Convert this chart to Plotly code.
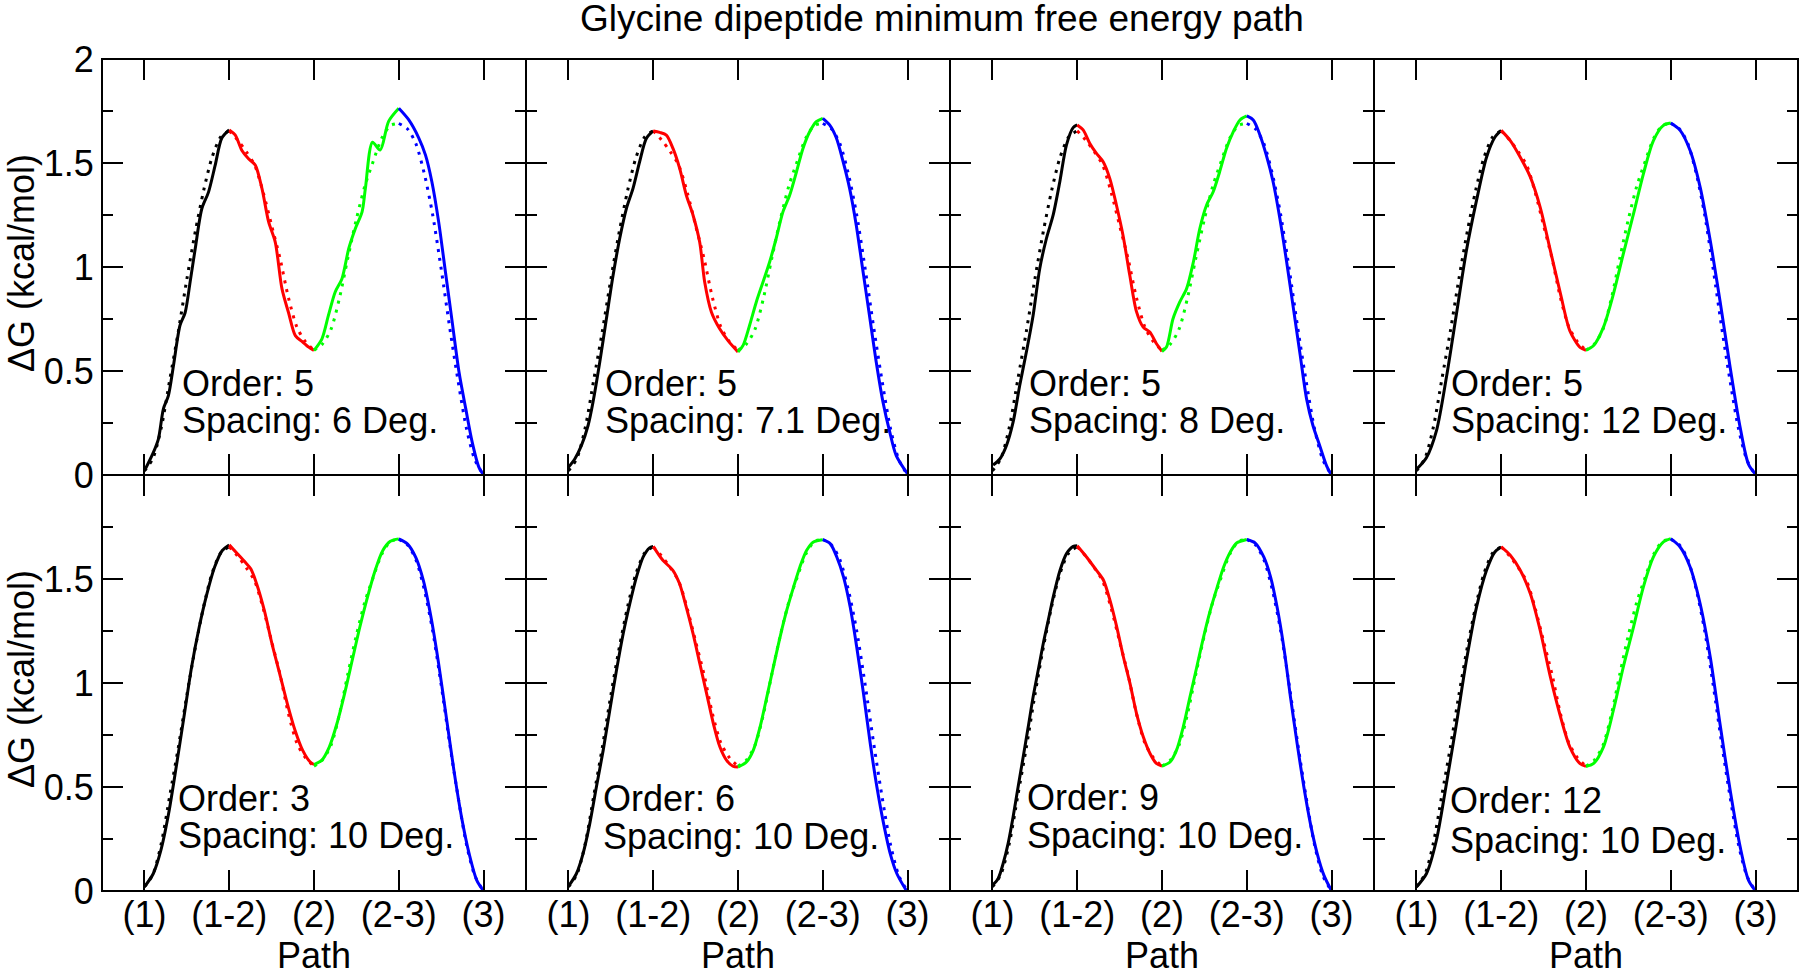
import plotly.graph_objects as go
from plotly.subplots import make_subplots

TITLE = "Glycine dipeptide minimum free energy path"
TICK_POS = [0, 1, 2, 3, 4]
TICK_TEXT = ["(1)", "(1-2)", "(2)", "(2-3)", "(3)"]
Y_TICKS = [0, 0.5, 1, 1.5, 2]
SEG_COLORS = ["#000000", "#ff0000", "#00ff00", "#0000ff"]

ORDERS = ["5", "5", "5", "5", "3", "6", "9", "12"]
SPACINGS = ["6", "7.1", "8", "12", "10", "10", "10", "10"]
LABEL_X = [0.42, 0.41, 0.41, 0.38, 0.37, 0.38, 0.38, 0.37]
LABEL_Y1 = [0.44, 0.44, 0.44, 0.44, 0.447, 0.447, 0.45, 0.434]
LABEL_Y2 = [0.26, 0.26, 0.26, 0.26, 0.268, 0.263, 0.265, 0.244]

# reference (dotted) path
REF_X = [0, 0.1, 0.2, 0.3, 0.4, 0.5, 0.6, 0.7, 0.8, 0.9, 1.0,
         1.1, 1.2, 1.3, 1.4, 1.5, 1.6, 1.7, 1.8, 1.9, 2.0,
         2.1, 2.2, 2.3, 2.4, 2.5, 2.6, 2.7, 2.8, 2.9, 3.0,
         3.1, 3.2, 3.3, 3.4, 3.5, 3.6, 3.7, 3.8, 3.9, 4.0]
REF_Y = [0.02, 0.08, 0.23, 0.46, 0.69, 0.94, 1.17, 1.37, 1.53, 1.625, 1.655,
         1.61, 1.555, 1.49, 1.36, 1.20, 1.04, 0.85, 0.71, 0.64, 0.6,
         0.63, 0.70, 0.85, 1.045, 1.23, 1.39, 1.51, 1.62, 1.68, 1.69,
         1.665, 1.594, 1.45, 1.25, 0.99, 0.71, 0.45, 0.22, 0.07, 0.0]

# solid paths, one per panel
X1 = [0, 0.106, 0.165, 0.224, 0.283, 0.343, 0.42, 0.48, 0.54, 0.6, 0.677, 0.756, 0.835, 0.913, 1.0,
      1.07, 1.15, 1.228, 1.307, 1.386, 1.465, 1.543, 1.622, 1.70, 1.78, 1.858, 1.937, 2.0,
      2.094, 2.17, 2.25, 2.33, 2.41, 2.488, 2.567, 2.606, 2.69, 2.78, 2.88, 3.0,
      3.118, 3.236, 3.315, 3.39, 3.47, 3.55, 3.63, 3.71, 3.79, 3.866, 3.945, 4.0]
Y1 = [0.02, 0.109, 0.173, 0.318, 0.382, 0.527, 0.72, 0.78, 0.93, 1.09, 1.28, 1.36, 1.49, 1.62, 1.659,
      1.635, 1.56, 1.52, 1.49, 1.378, 1.217, 1.12, 0.896, 0.78, 0.67, 0.642, 0.615, 0.599,
      0.655, 0.767, 0.88, 0.944, 1.089, 1.185, 1.265, 1.378, 1.60, 1.562, 1.70, 1.763,
      1.707, 1.62, 1.538, 1.41, 1.217, 0.976, 0.735, 0.495, 0.318, 0.157, 0.037, 0.0]

X2 = [0, 0.075, 0.153, 0.232, 0.29, 0.37, 0.448, 0.527, 0.605, 0.684, 0.762, 0.84, 0.919, 1.0,
      1.077, 1.155, 1.233, 1.312, 1.39, 1.47, 1.548, 1.607, 1.686, 1.784, 1.88, 2.0,
      2.06, 2.137, 2.216, 2.295, 2.373, 2.45, 2.53, 2.61, 2.69, 2.766, 2.845, 2.923, 3.0,
      3.08, 3.16, 3.24, 3.316, 3.395, 3.47, 3.55, 3.63, 3.71, 3.79, 3.866, 4.0]
Y2 = [0.037, 0.077, 0.141, 0.238, 0.35, 0.543, 0.751, 0.96, 1.137, 1.281, 1.378, 1.506, 1.618, 1.654,
      1.647, 1.634, 1.57, 1.474, 1.346, 1.249, 1.12, 0.928, 0.784, 0.703, 0.647, 0.591,
      0.623, 0.72, 0.832, 0.928, 1.024, 1.137, 1.265, 1.346, 1.458, 1.57, 1.65, 1.699, 1.715,
      1.683, 1.62, 1.506, 1.378, 1.2, 0.99, 0.768, 0.543, 0.35, 0.206, 0.093, 0.005]

X3 = [0.008, 0.087, 0.165, 0.244, 0.322, 0.40, 0.48, 0.558, 0.637, 0.716, 0.795, 0.873, 0.952, 1.0,
      1.07, 1.149, 1.227, 1.306, 1.384, 1.463, 1.54, 1.62, 1.70, 1.778, 1.856, 1.935, 2.0,
      2.053, 2.13, 2.21, 2.29, 2.37, 2.446, 2.525, 2.604, 2.68, 2.76, 2.84, 2.92, 3.0,
      3.076, 3.155, 3.23, 3.31, 3.39, 3.47, 3.55, 3.63, 3.705, 3.78, 3.86, 3.94, 3.99]
Y3 = [0.048, 0.077, 0.141, 0.254, 0.43, 0.59, 0.767, 0.992, 1.137, 1.249, 1.41, 1.586, 1.67, 1.683,
      1.659, 1.594, 1.546, 1.506, 1.426, 1.297, 1.153, 0.96, 0.784, 0.711, 0.687, 0.631, 0.594,
      0.615, 0.751, 0.832, 0.896, 1.024, 1.185, 1.297, 1.362, 1.458, 1.57, 1.65, 1.707, 1.726,
      1.707, 1.635, 1.538, 1.41, 1.233, 1.024, 0.8, 0.575, 0.366, 0.238, 0.141, 0.045, 0.005]

X4 = [0, 0.118, 0.236, 0.354, 0.472, 0.59, 0.709, 0.827, 0.925, 1.0,
      1.107, 1.225, 1.344, 1.46, 1.58, 1.7, 1.81, 1.93, 2.0,
      2.087, 2.205, 2.323, 2.44, 2.56, 2.677, 2.795, 2.913, 3.0,
      3.11, 3.228, 3.346, 3.465, 3.58, 3.7, 3.818, 3.917, 4.0]
Y4 = [0.027, 0.083, 0.212, 0.47, 0.774, 1.079, 1.32, 1.528, 1.624, 1.657,
      1.608, 1.528, 1.432, 1.287, 1.079, 0.87, 0.693, 0.613, 0.6,
      0.621, 0.71, 0.87, 1.063, 1.255, 1.448, 1.608, 1.681, 1.692,
      1.657, 1.56, 1.384, 1.127, 0.838, 0.517, 0.228, 0.051, 0.003]

X5 = [0, 0.104, 0.194, 0.285, 0.375, 0.466, 0.556, 0.646, 0.737, 0.827, 0.918, 1.0,
      1.1, 1.19, 1.256, 1.324, 1.415, 1.505, 1.596, 1.686, 1.777, 1.867, 1.955, 2.0,
      2.09, 2.18, 2.27, 2.36, 2.45, 2.54, 2.63, 2.72, 2.81, 2.9, 3.0,
      3.104, 3.2, 3.29, 3.38, 3.47, 3.56, 3.65, 3.74, 3.83, 3.92, 4.0]
Y5 = [0.02, 0.083, 0.195, 0.371, 0.596, 0.836, 1.076, 1.268, 1.428, 1.556, 1.637, 1.664,
      1.62, 1.58, 1.548, 1.476, 1.348, 1.188, 1.044, 0.9, 0.772, 0.676, 0.62, 0.608,
      0.628, 0.692, 0.804, 0.948, 1.108, 1.268, 1.412, 1.54, 1.636, 1.681, 1.693,
      1.668, 1.604, 1.492, 1.316, 1.092, 0.836, 0.58, 0.355, 0.179, 0.051, 0.0]

X6 = [0, 0.094, 0.173, 0.252, 0.33, 0.41, 0.488, 0.567, 0.646, 0.724, 0.803, 0.882, 0.957, 1.0,
      1.114, 1.232, 1.31, 1.39, 1.47, 1.55, 1.63, 1.71, 1.787, 1.866, 1.94, 2.0,
      2.1, 2.18, 2.26, 2.34, 2.417, 2.496, 2.575, 2.654, 2.73, 2.81, 2.89, 3.0,
      3.087, 3.165, 3.244, 3.323, 3.4, 3.48, 3.56, 3.638, 3.717, 3.795, 3.874, 3.984]
Y6 = [0.022, 0.083, 0.18, 0.324, 0.5, 0.676, 0.869, 1.061, 1.237, 1.381, 1.51, 1.606, 1.65, 1.657,
      1.59, 1.542, 1.478, 1.365, 1.237, 1.093, 0.949, 0.804, 0.692, 0.628, 0.6, 0.596,
      0.62, 0.676, 0.788, 0.933, 1.077, 1.221, 1.35, 1.46, 1.558, 1.638, 1.678, 1.689,
      1.67, 1.606, 1.51, 1.365, 1.173, 0.949, 0.708, 0.5, 0.324, 0.18, 0.083, 0.003]

X7 = [0, 0.067, 0.126, 0.185, 0.244, 0.303, 0.363, 0.422, 0.48, 0.54, 0.6, 0.658, 0.717, 0.796, 0.874, 0.953, 1.0,
      1.11, 1.23, 1.31, 1.387, 1.466, 1.545, 1.623, 1.70, 1.78, 1.86, 1.937, 2.0,
      2.095, 2.17, 2.25, 2.33, 2.41, 2.49, 2.57, 2.65, 2.727, 2.806, 2.88, 3.0,
      3.10, 3.20, 3.28, 3.357, 3.436, 3.515, 3.594, 3.673, 3.75, 3.83, 3.91, 4.0]
Y7 = [0.027, 0.059, 0.131, 0.228, 0.356, 0.5, 0.644, 0.788, 0.933, 1.061, 1.19, 1.30, 1.413, 1.54, 1.622, 1.657, 1.66,
      1.606, 1.54, 1.494, 1.397, 1.27, 1.125, 0.997, 0.853, 0.74, 0.66, 0.612, 0.601,
      0.62, 0.676, 0.788, 0.933, 1.077, 1.221, 1.35, 1.46, 1.558, 1.63, 1.673, 1.69,
      1.673, 1.606, 1.51, 1.365, 1.173, 0.933, 0.708, 0.5, 0.324, 0.18, 0.075, 0.0]

X8 = [0, 0.118, 0.236, 0.354, 0.472, 0.59, 0.709, 0.827, 0.925, 1.0,
      1.107, 1.225, 1.344, 1.46, 1.58, 1.7, 1.81, 1.93, 2.0,
      2.087, 2.205, 2.323, 2.44, 2.56, 2.677, 2.795, 2.913, 3.0,
      3.11, 3.228, 3.346, 3.465, 3.58, 3.7, 3.818, 3.917, 4.0]
Y8 = [0.019, 0.083, 0.244, 0.516, 0.804, 1.109, 1.365, 1.542, 1.63, 1.654,
      1.614, 1.542, 1.429, 1.253, 1.029, 0.837, 0.692, 0.612, 0.599,
      0.612, 0.692, 0.869, 1.077, 1.269, 1.462, 1.606, 1.678, 1.694,
      1.654, 1.558, 1.381, 1.125, 0.804, 0.484, 0.212, 0.051, 0.0]

PANELS_X = [X1, X2, X3, X4, X5, X6, X7, X8]
PANELS_Y = [Y1, Y2, Y3, Y4, Y5, Y6, Y7, Y8]

FONT = "Liberation Sans, Arial, Helvetica, sans-serif"
FS = 36
FS_TITLE = 37


def segments(xs, ys):
    out = []
    for k in range(4):
        sx, sy = [], []
        for x, y in zip(xs, ys):
            if k - 1e-9 <= x <= k + 1 + 1e-9:
                sx.append(x)
                sy.append(y)
        out.append((sx, sy))
    return out


fig = make_subplots(rows=2, cols=4, horizontal_spacing=0, vertical_spacing=0)

for i in range(8):
    r, c = i // 4 + 1, i % 4 + 1
    for k, (sx, sy) in enumerate(segments(REF_X, REF_Y)):
        fig.add_trace(go.Scatter(x=sx, y=sy, mode="lines",
                                 line=dict(color=SEG_COLORS[k], width=3, dash="3px,6px", shape="spline", smoothing=0.8),
                                 showlegend=False, hoverinfo="skip"), row=r, col=c)
    for k, (sx, sy) in enumerate(segments(PANELS_X[i], PANELS_Y[i])):
        fig.add_trace(go.Scatter(x=sx, y=sy, mode="lines",
                                 line=dict(color=SEG_COLORS[k], width=3, shape="spline", smoothing=0.8),
                                 showlegend=False, hoverinfo="skip"), row=r, col=c)
    xref = "x" if i == 0 else f"x{i+1}"
    yref = "y" if i == 0 else f"y{i+1}"
    fig.add_annotation(x=LABEL_X[i], y=LABEL_Y1[i], xref=xref, yref=yref, text=f"Order: {ORDERS[i]}",
                       showarrow=False, xanchor="left", yanchor="middle",
                       font=dict(family=FONT, size=FS, color="black"))
    fig.add_annotation(x=LABEL_X[i], y=LABEL_Y2[i], xref=xref, yref=yref, text=f"Spacing: {SPACINGS[i]} Deg.",
                       showarrow=False, xanchor="left", yanchor="middle",
                       font=dict(family=FONT, size=FS, color="black"))

fig.update_xaxes(range=[-0.5, 4.5], tickmode="array", tickvals=TICK_POS, ticktext=TICK_TEXT,
                 ticks="inside", ticklen=21, tickwidth=2, tickcolor="black",
                 showline=True, linecolor="black", linewidth=1, mirror="allticks",
                 showgrid=False, zeroline=False, ticklabelstandoff=-8,
                 tickfont=dict(family=FONT, size=FS, color="black"))
fig.update_xaxes(showticklabels=False, row=1)

fig.update_yaxes(range=[0, 2], tickmode="array", tickvals=Y_TICKS, ticktext=["0", "0.5", "1", "1.5", "2"],
                 ticks="inside", ticklen=21, tickwidth=2, tickcolor="black",
                 minor=dict(ticks="inside", ticklen=11, tickwidth=2, tickcolor="black", dtick=0.25, tick0=0, showgrid=False),
                 showline=True, linecolor="black", linewidth=1, mirror="allticks",
                 showgrid=False, zeroline=False, tickfont=dict(family=FONT, size=FS, color="black"))
fig.update_yaxes(ticktext=["0", "0.5", "1", "1.5", ""], row=2)
for c in (2, 3, 4):
    fig.update_yaxes(showticklabels=False, col=c)

# outer frame (2 px) over the whole grid
fig.add_shape(type="rect", xref="paper", yref="paper", x0=0, x1=1, y0=0, y1=1,
              line=dict(color="black", width=2), fillcolor="rgba(0,0,0,0)", layer="above")

# titles
PW = 1696.0
PH = 832.0
fig.add_annotation(x=(578 - 102) / PW, y=(891 - 19) / PH, xref="paper", yref="paper", text=TITLE,
                   showarrow=False, xanchor="left", yanchor="middle",
                   font=dict(family=FONT, size=FS_TITLE, color="black"))
for cy in (263, 679):
    fig.add_annotation(x=(21 - 102) / PW, y=(891 - cy) / PH, xref="paper", yref="paper",
                       text="ΔG (kcal/mol)", textangle=-90, showarrow=False,
                       xanchor="center", yanchor="middle",
                       font=dict(family=FONT, size=FS, color="black"))
for c in range(4):
    fig.add_annotation(x=(c * 424 + 212) / PW, y=(891 - 955) / PH, xref="paper", yref="paper",
                       text="Path", showarrow=False, xanchor="center", yanchor="middle",
                       font=dict(family=FONT, size=FS, color="black"))

fig.update_layout(width=1800, height=972, autosize=False,
                  margin=dict(l=102, r=2, t=59, b=81, pad=0),
                  paper_bgcolor="white", plot_bgcolor="white",
                  font=dict(family=FONT, size=FS, color="black"))

fig.write_html("out.html", config={"displayModeBar": False},
               post_script="document.body.style.margin='0';document.body.style.padding='0';document.body.style.overflow='hidden';")
